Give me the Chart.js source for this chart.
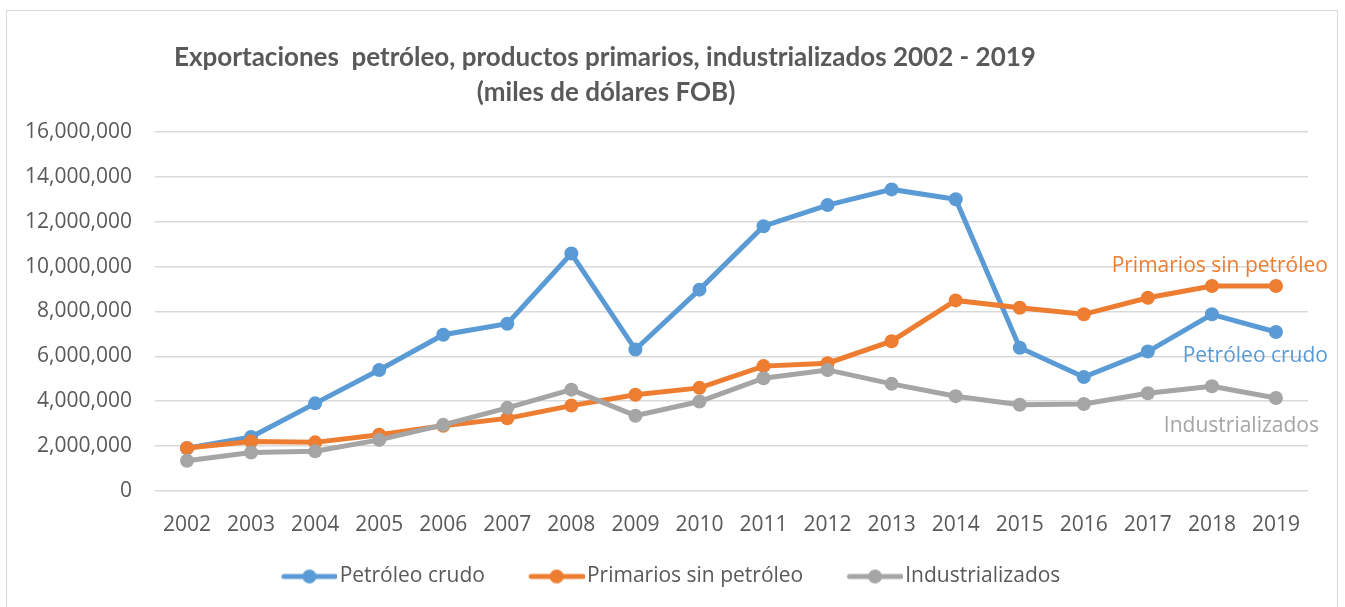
<!DOCTYPE html>
<html><head><meta charset="utf-8">
<script src="https://cdn.jsdelivr.net/npm/chart.js@4"></script>
<style>
html,body{margin:0;padding:0;background:#fff;}
#wrap{position:relative;width:1345px;height:607px;overflow:hidden;}
#frame{position:absolute;left:6px;top:10px;width:1332px;height:640px;border:1.5px solid #d9d9d9;box-sizing:border-box;}
#c{position:absolute;left:0;top:0;}
</style></head><body>
<div id="wrap"><div id="frame"></div><canvas id="c" width="1345" height="607"></canvas></div>
<script>
const years = ['2002','2003','2004','2005','2006','2007','2008','2009','2010','2011','2012','2013','2014','2015','2016','2017','2018','2019'];
const petroleoCrudo = [1900000, 2400000, 3900000, 5390000, 6960000, 7450000, 10580000, 6300000, 8970000, 11800000, 12740000, 13440000, 13000000, 6380000, 5070000, 6210000, 7870000, 7080000];
const primariosSinPetroleo = [1910000, 2200000, 2160000, 2500000, 2900000, 3230000, 3800000, 4280000, 4590000, 5560000, 5690000, 6670000, 8490000, 8160000, 7870000, 8610000, 9130000, 9130000];
const industrializados = [1340000, 1710000, 1760000, 2270000, 2940000, 3700000, 4510000, 3350000, 3980000, 5020000, 5390000, 4770000, 4220000, 3840000, 3870000, 4350000, 4660000, 4140000];
const seriesNames = ['Petróleo crudo', 'Primarios sin petróleo', 'Industrializados'];
const titleLines = ['Exportaciones  petróleo, productos primarios, industrializados 2002 - 2019', '(miles de dólares FOB)'];

const COLORS = ['#5B9BD5', '#ED7D31', '#A5A5A5'];
const TXT = '#595959';
const FONT = "'Open Sans', sans-serif";

function legendIcon(color) {
  const cv = document.createElement('canvas');
  cv.width = 98; cv.height = 16;
  const g = cv.getContext('2d');
  g.strokeStyle = color; g.lineWidth = 5; g.lineCap = 'round';
  g.beginPath(); g.moveTo(44.5, 8); g.lineTo(96, 8); g.stroke();
  g.fillStyle = color; g.beginPath(); g.arc(70, 8, 7, 0, Math.PI * 2); g.fill();
  return cv;
}
const icons = COLORS.map(legendIcon);

const endLabelDy = [24, -20, 28];
const endLabelDx = [52, 52, 43];

const titlePlugin = {
  id: 'customTitle',
  afterDraw(chart) {
    const ctx = chart.ctx;
    ctx.save();
    ctx.fillStyle = TXT;
    ctx.font = "bold 26px Lato, sans-serif";
    ctx.textAlign = 'center';
    ctx.textBaseline = 'middle';
    ctx.fillText(titleLines[0], 605, 58);
    ctx.fillText(titleLines[1], 606, 93);
    ctx.restore();
  }
};

const endLabelPlugin = {
  id: 'endLabels',
  afterDatasetsDraw(chart) {
    const ctx = chart.ctx;
    ctx.save();
    ctx.font = "21px " + FONT;
    ctx.textAlign = 'right';
    ctx.textBaseline = 'middle';
    chart.data.datasets.forEach((ds, i) => {
      const meta = chart.getDatasetMeta(i);
      const pt = meta.data[meta.data.length - 1];
      ctx.fillStyle = ds.borderColor;
      ctx.fillText(ds.label, pt.x + endLabelDx[i], pt.y + endLabelDy[i]);
    });
    ctx.restore();
  }
};

const seriesData = [petroleoCrudo, primariosSinPetroleo, industrializados];
const datasets = seriesData.map((d, i) => ({
  label: seriesNames[i],
  data: d,
  borderColor: COLORS[i],
  backgroundColor: COLORS[i],
  pointBackgroundColor: COLORS[i],
  pointBorderWidth: 0,
  pointRadius: 7,
  pointHoverRadius: 7,
  borderWidth: 5,
  tension: 0,
  order: 3 - i
}));

new Chart(document.getElementById('c'), {
  type: 'line',
  data: { labels: years, datasets },
  options: {
    responsive: false,
    animation: false,
    events: [],
    layout: { padding: { top: 132, right: 37, bottom: 10, left: 0 } },
    plugins: {
      title: { display: false },
      tooltip: { enabled: false },
      legend: {
        position: 'bottom',
        title: { display: true, text: '', font: { size: 4, lineHeight: 1 }, padding: 0 },
        labels: {
          usePointStyle: true,
          pointStyleWidth: 81.5,
          padding: 10,
          color: TXT,
          font: { family: FONT, size: 21 },
          generateLabels(chart) {
            return chart.data.datasets.map((ds, i) => ({
              text: ds.label, pointStyle: icons[i], fillStyle: ds.borderColor,
              strokeStyle: ds.borderColor, lineWidth: 0, hidden: false,
              datasetIndex: i, fontColor: TXT
            }));
          }
        }
      }
    },
    scales: {
      x: {
        offset: true,
        grid: { display: false },
        border: { display: false },
        ticks: { color: TXT, font: { family: FONT, size: 21 }, padding: 14, maxRotation: 0, autoSkip: false }
      },
      y: {
        min: 0, max: 16000000,
        afterFit(s) { s.width = 155; },
        grid: { color: '#D9D9D9', lineWidth: 1.5, drawTicks: false },
        border: { display: false },
        ticks: {
          stepSize: 2000000, padding: 23, color: TXT,
          font: { family: FONT, size: 21 },
          callback: v => v.toLocaleString('en-US')
        }
      }
    }
  },
  plugins: [titlePlugin, endLabelPlugin]
});
</script>
</body></html>
